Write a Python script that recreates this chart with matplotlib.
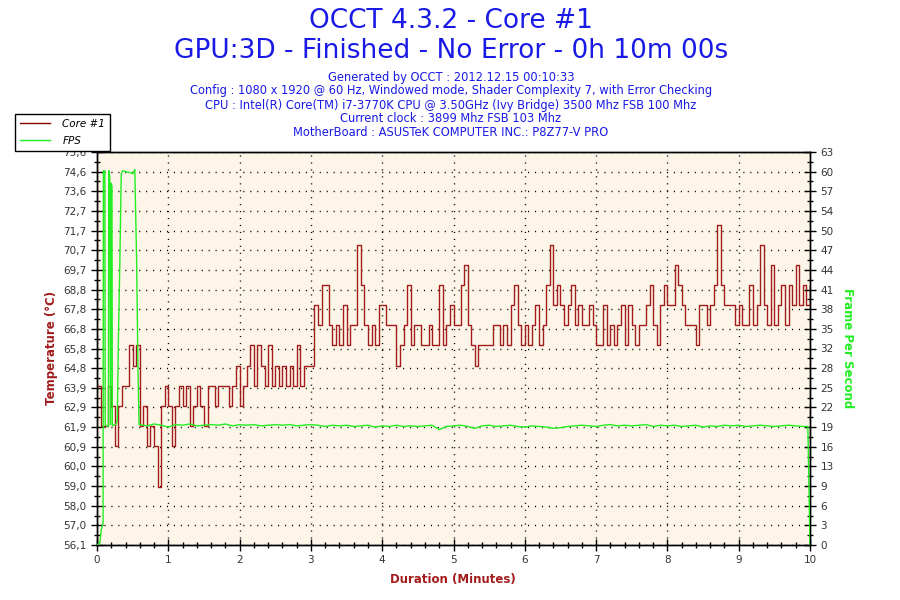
import matplotlib
matplotlib.use("Agg")
import matplotlib.pyplot as plt
import numpy as np
from matplotlib.lines import Line2D

# ---- data ----
sample_step = 0.05  # minutes between temperature samples

temp_min0 = [64, 62, 62, 64, 63, 61, 63, 64, 64, 66, 65, 66, 62, 63, 61, 62, 61, 59, 63, 64]
temp_min1 = [63, 61, 63, 64, 63, 64, 62, 63, 64, 63, 62, 64, 64, 63, 64, 64, 64, 63, 64, 65]
temp_min2 = [63, 64, 65, 66, 64, 66, 65, 64, 66, 64, 65, 64, 65, 64, 65, 64, 66, 64, 65, 65]
temp_min3 = [65, 68, 67, 69, 69, 67, 66, 67, 66, 68, 66, 67, 67, 71, 69, 67, 66, 67, 66, 68]
temp_min4 = [68, 67, 67, 67, 65, 66, 67, 69, 66, 67, 67, 66, 66, 67, 66, 66, 69, 66, 67, 68]
temp_min5 = [67, 67, 69, 70, 67, 66, 65, 66, 66, 66, 66, 67, 67, 66, 67, 66, 68, 69, 67, 66]
temp_min6 = [67, 66, 67, 68, 66, 67, 69, 71, 68, 69, 68, 67, 68, 69, 67, 68, 67, 67, 68, 67]
temp_min7 = [66, 66, 68, 66, 67, 66, 67, 68, 66, 68, 67, 66, 67, 67, 68, 69, 67, 66, 68, 69]
temp_min8 = [68, 68, 70, 69, 68, 67, 67, 67, 66, 68, 68, 67, 68, 69, 72, 69, 68, 68, 68, 67]
temp_min9 = [68, 67, 67, 69, 67, 68, 71, 68, 67, 70, 67, 68, 69, 67, 69, 68, 70, 68, 69, 68]
temp_end = [69]

# FPS warm-up phase (irregular times, minutes)
fps_warm_t = [0.00, 0.04, 0.06, 0.085, 0.09, 0.11, 0.115, 0.16, 0.165, 0.18, 0.19,
              0.20, 0.21, 0.215, 0.27, 0.285, 0.30, 0.32, 0.34, 0.36, 0.42, 0.47,
              0.50, 0.53, 0.555, 0.575, 0.59]
fps_warm_v = [0.0, 0.3, 2.5, 3.5, 60.0, 60.0, 19.2, 19.0, 60.0, 59.0, 19.3,
              58.0, 57.5, 19.1, 19.4, 20.0, 33.0, 45.0, 59.5, 60.0, 59.8, 59.7,
              59.5, 60.2, 46.0, 28.0, 19.3]
# FPS steady phase, every 0.1 min from 0.6 to 9.9
fps_steady_start = 0.6
fps_steady_step = 0.1
fps_steady = [
    19.3, 19.1, 19.4, 19.2, 18.9, 19.3, 19.2, 19.4, 19.1, 19.2,
    19.3, 19.2, 19.4, 19.1, 19.3, 19.2, 19.3, 19.1, 19.2, 19.3,
    19.2, 19.3, 19.1, 19.2, 19.3, 19.2, 19.0, 19.2, 19.1, 19.2,
    19.0, 19.1, 19.2, 18.9, 19.1, 19.0, 19.2, 19.0, 19.1, 19.0,
    19.1, 19.2, 18.5, 19.0, 19.1, 19.2, 19.0, 18.7, 19.1, 19.2,
    19.0, 19.1, 19.2, 19.0, 18.9, 19.1, 19.0, 18.9, 18.7, 18.8,
    19.0, 19.1, 19.2, 19.1, 19.0, 19.2, 19.3, 19.1, 19.2, 19.1,
    19.2, 19.3, 19.0, 19.2, 19.1, 19.2, 19.0, 19.1, 19.2, 18.9,
    19.1, 19.0, 19.2, 19.1, 19.2, 19.0, 19.1, 19.2, 19.1, 19.0,
    19.1, 19.2, 19.1, 19.0,
]
fps_end_t = [9.97, 10.0]
fps_end_v = [19.0, 0.0]

temp_ticklabels = ["56,1", "57,0", "58,0", "59,0", "60,0", "60,9", "61,9", "62,9", "63,9",
                   "64,8", "65,8", "66,8", "67,8", "68,8", "69,7", "70,7", "71,7", "72,7",
                   "73,6", "74,6", "75,6"]
fps_ticklabels = ["0", "3", "6", "9", "13", "16", "19", "22", "25", "28", "32", "35",
                  "38", "41", "44", "47", "50", "54", "57", "60", "63"]
temp_range = (56.1, 75.6)
fps_range = (0, 63)

title_lines = ["OCCT 4.3.2 - Core #1", "GPU:3D - Finished - No Error - 0h 10m 00s"]
info_lines = [
    "Generated by OCCT : 2012.12.15 00:10:33",
    "Config : 1080 x 1920 @ 60 Hz, Windowed mode, Shader Complexity 7, with Error Checking",
    "CPU : Intel(R) Core(TM) i7-3770K CPU @ 3.50GHz (Ivy Bridge) 3500 Mhz FSB 100 Mhz",
    "Current clock : 3899 Mhz FSB 103 Mhz",
    "MotherBoard : ASUSTeK COMPUTER INC.: P8Z77-V PRO",
]

# ---- build series ----
temp_values = (temp_min0 + temp_min1 + temp_min2 + temp_min3 + temp_min4 +
               temp_min5 + temp_min6 + temp_min7 + temp_min8 + temp_min9 + temp_end)
temp_time = np.arange(len(temp_values)) * sample_step

steady_t = fps_steady_start + np.arange(len(fps_steady)) * fps_steady_step
fps_time = np.concatenate([fps_warm_t, steady_t, fps_end_t])
fps_values = np.concatenate([fps_warm_v, fps_steady, fps_end_v])

TEMP_COLOR = "#A31B1B"
FPS_COLOR = "#22EE22"
BLUE = "#1A1AE6"
BG = "#FDF6E8"
TICK_COLOR = "#333333"

plt.rcParams["font.family"] = ["DejaVu Sans"]

fig = plt.figure(figsize=(9, 6), dpi=100)
ax = fig.add_axes([97 / 900, 55 / 600, 713 / 900, 393 / 600])
ax.set_facecolor(BG)

ax.step(temp_time, temp_values, where="post", color=TEMP_COLOR, linewidth=1.0, zorder=3)
ax.set_xlim(0, 10)
ax.set_ylim(*temp_range)

temp_ticks = np.linspace(temp_range[0], temp_range[1], len(temp_ticklabels))
ax.set_yticks(temp_ticks)
ax.set_yticklabels(temp_ticklabels)
ax.set_yticks((temp_ticks[:-1] + temp_ticks[1:]) / 2, minor=True)
ax.set_xticks(np.arange(0, 11, 1))
ax.set_xticks(np.arange(0, 10.01, 0.2), minor=True)

ax.grid(True, which="major", color="black", linestyle=(0, (0.8, 4.2)), linewidth=1.0, zorder=1)
ax.set_axisbelow(True)

ax2 = ax.twinx()
ax2.plot(fps_time, fps_values, color=FPS_COLOR, linewidth=1.0, zorder=4)
ax2.set_ylim(*fps_range)
fps_ticks = np.linspace(fps_range[0], fps_range[1], len(fps_ticklabels))
ax2.set_yticks(fps_ticks)
ax2.set_yticklabels(fps_ticklabels)
ax2.set_yticks((fps_ticks[:-1] + fps_ticks[1:]) / 2, minor=True)

for a in (ax, ax2):
    a.tick_params(which="major", direction="inout", length=8, width=1,
                  labelsize=7.5, labelcolor=TICK_COLOR, color="black")
    a.tick_params(which="minor", direction="inout", length=4, width=1, color="black")
    for s in a.spines.values():
        s.set_color("black")
        s.set_linewidth(1.0)

# titles and info block
fig.text(0.501, 1 - 21 / 600, title_lines[0], ha="center", va="center", fontsize=19, color=BLUE)
fig.text(0.501, 1 - 51 / 600, title_lines[1], ha="center", va="center", fontsize=19, color=BLUE)
info_y = [77, 91, 105, 118, 132]
for line, yp in zip(info_lines, info_y):
    fig.text(0.501, 1 - yp / 600, line, ha="center", va="center", fontsize=8.3, color=BLUE)

# axis labels
fig.text(51 / 900, 1 - 348 / 600, "Temperature (°C)", rotation=90, ha="center", va="center",
         fontsize=8.5, fontweight="bold", color=TEMP_COLOR)
fig.text(848 / 900, 1 - 348 / 600, "Frame Per Second", rotation=270, ha="center", va="center",
         fontsize=8.5, fontweight="bold", color=FPS_COLOR)
fig.text(453 / 900, 1 - 580 / 600, "Duration (Minutes)", ha="center", va="center",
         fontsize=8.5, fontweight="bold", color=TEMP_COLOR)

# legend box in the top left corner
handles = [Line2D([], [], color="#8B0000", linewidth=1.0),
           Line2D([], [], color=FPS_COLOR, linewidth=1.0)]
leg = fig.legend(handles, ["Core #1", "FPS"], loc="upper left",
                 bbox_to_anchor=(15 / 900, 1 - 114 / 600), fancybox=False, framealpha=1,
                 edgecolor="black", prop={"size": 7.5, "style": "italic"},
                 handlelength=2.9, handletextpad=1.2, borderpad=0.45, labelspacing=0.7,
                 borderaxespad=0)
leg.get_frame().set_linewidth(1.0)

fig.savefig("out.png", dpi=100, facecolor="white")
